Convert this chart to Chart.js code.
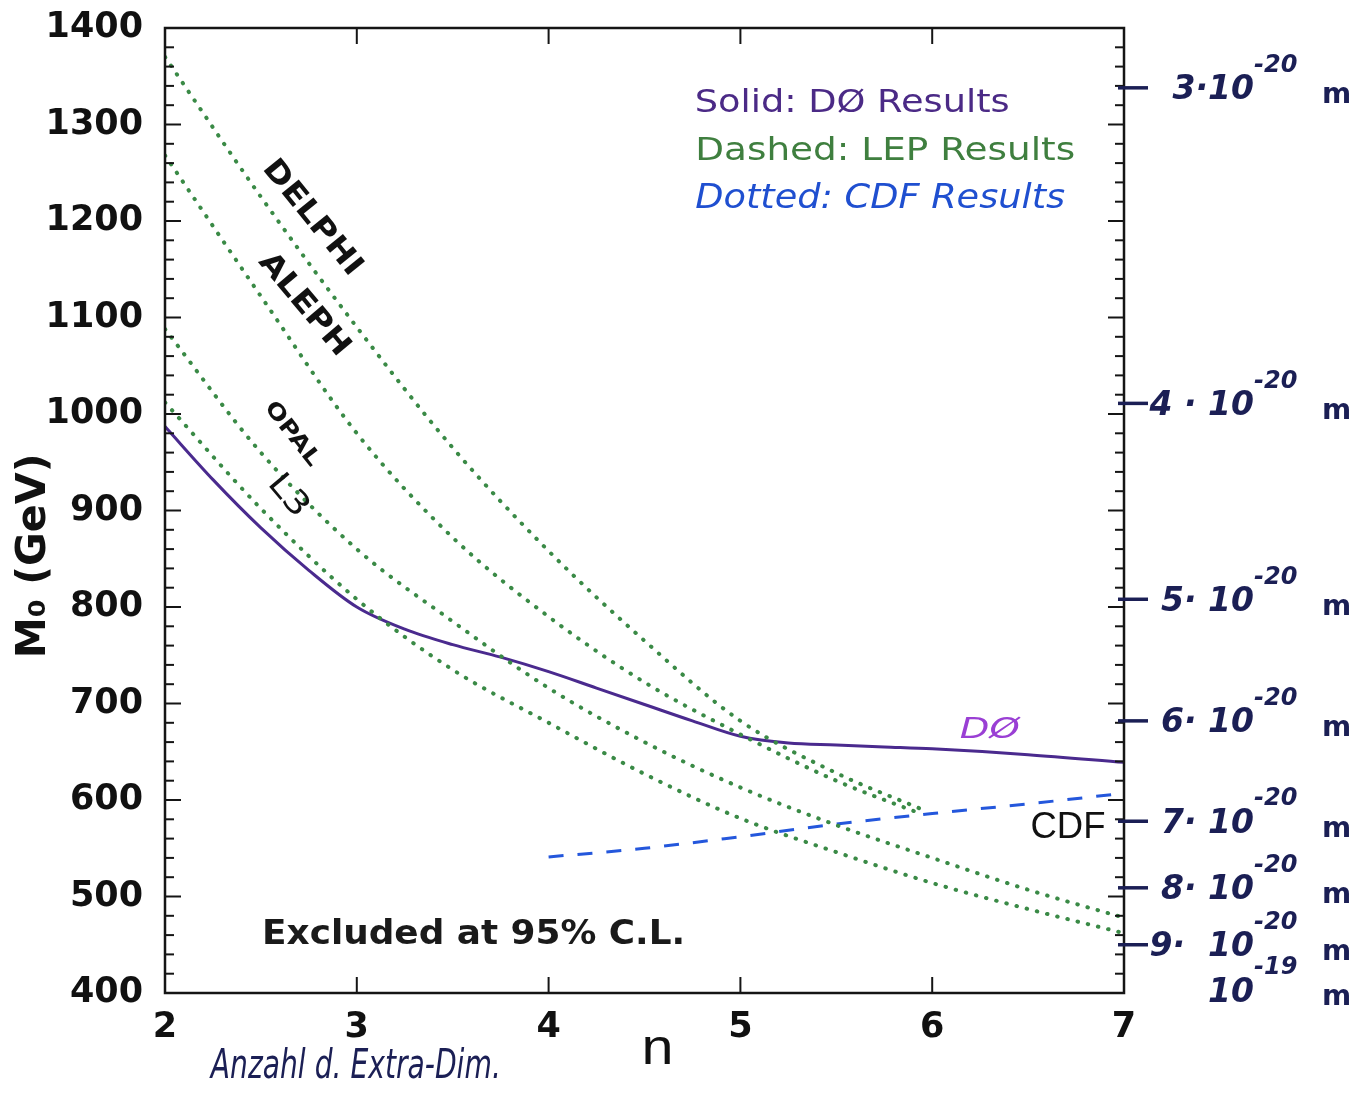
<!DOCTYPE html>
<html>
<head>
<meta charset="utf-8">
<script src="https://cdn.jsdelivr.net/npm/chart.js@4"></script>
<style>
  body { margin: 0; background: #fff; }
  #wrap { width: 1369px; height: 1097px; position: relative; }
</style>
</head>
<body>
<div id="wrap"><canvas id="chart"></canvas></div>
<script>
// number of extra dimensions n vs. mass limit M0 (GeV)
const nD0 = [2, 2.25, 2.5, 2.75, 3, 3.25, 3.5, 3.75, 4, 4.25, 4.5, 4.75, 5, 5.25, 5.5, 5.75, 6, 6.5, 7];
const massD0 = [987, 932, 882, 838, 800, 777, 761, 748, 733, 716, 699, 682, 666, 659, 657, 655, 653, 647, 639];

const nLepShort = [2, 2.5, 3, 3.5, 4, 4.5, 5, 5.5, 5.95];
const massDelphi = [1370, 1225, 1090, 965, 858, 765, 682, 628, 590];
const massAleph = [1268, 1122, 980, 872, 790, 722, 668, 620, 585];

const nLep = [2, 2.5, 3, 3.5, 4, 4.5, 5, 5.5, 6, 6.5, 7];
const massOpal = [1088, 960, 860, 785, 716, 660, 613, 574, 540, 507, 478];
const massL3 = [1012, 902, 808, 735, 680, 627, 581, 546, 514, 487, 462];

const nCdf = [4, 4.5, 5, 5.5, 6, 6.5, 7];
const massCdf = [541, 550, 562, 575, 586, 596, 607];

const xTicks = [2, 3, 4, 5, 6, 7];
// hand-written length scale on the right
const rightVals = [1338, 1011, 808, 682, 578, 509, 450, 403];
const rightPre = ['3·10', '4 · 10', '5· 10', '6· 10', '7· 10', '8· 10', '9·  10', '10'];
const rightExp = ['-20', '-20', '-20', '-20', '-20', '-20', '-20', '-19'];

const pts = (xs, ys) => xs.map((v, i) => ({x: v, y: ys[i]}));

let fitText = function(ctx, text, cx, cy, width, font, color, angle) {
  ctx.save();
  ctx.font = font;
  ctx.fillStyle = color;
  ctx.textAlign = 'center';
  ctx.textBaseline = 'middle';
  const w = ctx.measureText(text).width;
  ctx.translate(cx, cy);
  ctx.rotate(angle || 0);
  ctx.scale(width / w, 1);
  ctx.fillText(text, 0, 0);
  ctx.restore();
}

const deg = Math.PI / 180;

const decor = {
  id: 'decor',
  afterDatasetsDraw(chart) {
    const {ctx, chartArea: a, scales: {x, y}} = chart;
    const line = (x1, y1, x2, y2) => { ctx.beginPath(); ctx.moveTo(x1, y1); ctx.lineTo(x2, y2); ctx.stroke(); };
    ctx.save();
    ctx.strokeStyle = '#151515';
    ctx.lineWidth = 2.5;
    ctx.strokeRect(a.left, a.top, a.right - a.left, a.bottom - a.top);

    // inward ticks
    ctx.lineWidth = 2;
    for (let v = 400; v <= 1400; v += 20) {
      const py = y.getPixelForValue(v);
      const len = v % 100 === 0 ? 16 : 9;
      line(a.left, py, a.left + len, py);
      line(a.right, py, a.right - len, py);
    }
    xTicks.forEach(v => {
      const px = x.getPixelForValue(v);
      line(px, a.bottom, px, a.bottom - 16);
      line(px, a.top, px, a.top + 16);
    });

    // right hand-written scale
    const navy = '#1b1f55';
    ctx.strokeStyle = navy;
    ctx.lineWidth = 3.5;
    rightVals.forEach((v, i) => {
      const py = y.getPixelForValue(v);
      if (i < rightVals.length - 1) line(a.right - 6, py, a.right + 24, py);
      ctx.fillStyle = navy;
      ctx.textBaseline = 'middle';
      ctx.textAlign = 'right';
      ctx.font = 'italic bold 33px "DejaVu Sans"';
      ctx.fillText(rightPre[i], a.right + 130, py + 3);
      ctx.textAlign = 'left';
      ctx.font = 'italic bold 24px "DejaVu Sans"';
      ctx.fillText(rightExp[i], a.right + 130, py - 22);
      ctx.font = 'bold 28px "DejaVu Sans"';
      ctx.fillText('m', a.right + 198, py + 8);
    });
    ctx.restore();

    const P = (n, m) => [x.getPixelForValue(n), y.getPixelForValue(m)];
    let p;
    // legend block
    p = P(5.583, 1322); fitText(ctx, 'Solid: DØ Results', p[0], p[1], 315, '32px "DejaVu Sans"', '#4b2a86');
    p = P(5.755, 1272); fitText(ctx, 'Dashed: LEP Results', p[0], p[1], 380, '32px "DejaVu Sans"', '#3f7f3f');
    p = P(5.729, 1223); fitText(ctx, 'Dotted: CDF Results', p[0], p[1], 370, 'italic 34px "DejaVu Sans"', '#1f4fd0');

    // curve labels
    p = P(2.766, 1203); fitText(ctx, 'DELPHI', p[0], p[1], 140, 'bold 30px "DejaVu Sans"', '#111', 51 * deg);
    p = P(2.724, 1113); fitText(ctx, 'ALEPH', p[0], p[1], 125, 'bold 30px "DejaVu Sans"', '#111', 50 * deg);
    p = P(2.661, 979); fitText(ctx, 'OPAL', p[0], p[1], 76, 'bold 22px "DejaVu Sans"', '#111', 52 * deg);
    p = P(2.641, 915); fitText(ctx, 'L3', p[0], p[1], 46, '32px "DejaVu Sans"', '#111', 50 * deg);
    p = P(6.3, 672); fitText(ctx, 'DØ', p[0], p[1], 60, 'italic 28px "DejaVu Sans"', '#9a3fd4');
    p = P(6.708, 571); fitText(ctx, 'CDF', p[0], p[1], 75, '36px "Liberation Sans"', '#111');
    p = P(3.609, 460); fitText(ctx, 'Excluded at 95% C.L.', p[0], p[1], 423, 'bold 34px "DejaVu Sans"', '#1a1a1a');

    // axis titles
    p = P(2, 853); fitText(ctx, 'M₀ (GeV)', 35, p[1], 205, 'bold 40px "DejaVu Sans"', '#111', -90 * deg);
    p = P(4.568, 400); fitText(ctx, 'n', p[0], p[1] + 57, 32, '50px "Liberation Sans"', '#111');
    p = P(2.995, 400); fitText(ctx, 'Anzahl d. Extra-Dim.', p[0], p[1] + 75, 290, 'italic 40px "DejaVu Sans"', '#1b1f55');
  }
};

const lep = (label, xs, ys) => ({
  label: label,
  data: pts(xs, ys),
  borderColor: '#3a8a46',
  borderWidth: 4,
  borderDash: [0.5, 10],
  borderCapStyle: 'round',
  cubicInterpolationMode: 'monotone',
  fill: false
});

const data = {
  datasets: [
    lep('DELPHI', nLepShort, massDelphi),
    lep('ALEPH', nLepShort, massAleph),
    lep('OPAL', nLep, massOpal),
    lep('L3', nLep, massL3),
    {
      label: 'CDF',
      data: pts(nCdf, massCdf),
      borderColor: '#2457dc',
      borderWidth: 3,
      borderDash: [15, 14],
      cubicInterpolationMode: 'monotone',
      fill: false
    },
    {
      label: 'DØ',
      data: pts(nD0, massD0),
      borderColor: '#4a2a8e',
      borderWidth: 3,
      cubicInterpolationMode: 'monotone',
      fill: false
    }
  ]
};

const tickFont = {family: '"DejaVu Sans"', weight: 'bold', size: 35};

const noPad = (s) => { s.paddingTop = 0; s.paddingBottom = 0; s.paddingLeft = 0; s.paddingRight = 0; };

const config = {
  type: 'line',
  data: data,
  options: {
    responsive: true,
    maintainAspectRatio: false,
    animation: false,
    layout: {padding: {top: 28}},
    elements: {point: {radius: 0}},
    plugins: {legend: {display: false}, tooltip: {enabled: false}},
    scales: {
      x: {
        type: 'linear', min: 2, max: 7,
        afterFit: (s) => { s.height = 104; noPad(s); },
        afterBuildTicks: (s) => { s.ticks = xTicks.map(v => ({value: v})); },
        grid: {display: false}, border: {display: false},
        ticks: {font: tickFont, color: '#111', padding: 6, maxRotation: 0}
      },
      y: {
        position: 'left', min: 400, max: 1400,
        afterFit: (s) => { s.width = 165; noPad(s); },
        grid: {display: false}, border: {display: false},
        ticks: {stepSize: 100, font: tickFont, color: '#111', padding: 14, callback: (v) => String(v)}
      },
      y2: {
        position: 'right', min: 400, max: 1400,
        afterFit: (s) => { s.width = 245; noPad(s); },
        grid: {display: false}, border: {display: false},
        ticks: {display: false}
      }
    }
  },
  plugins: [decor]
};

const myChart = new Chart(document.getElementById('chart'), config);
</script>
</body>
</html>
